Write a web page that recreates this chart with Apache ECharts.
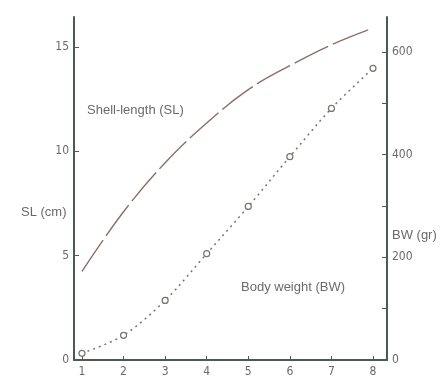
<!DOCTYPE html>
<html><head><meta charset="utf-8">
<script src="https://cdn.jsdelivr.net/npm/echarts@6/dist/echarts.min.js"></script>
<style>html,body{margin:0;padding:0;background:#fff}#c{width:440px;height:378px}</style>
</head><body><div id="c"></div>
<script>
const ages = [1, 2, 3, 4, 5, 6, 7, 8];
const shellLength = [4.25, 7.1, 9.45, 11.35, 12.95, 14.1, 15.1, 15.9];
const bodyWeight = [13, 48, 116, 207, 299, 396, 490, 568];
const slTicks = [0, 5, 10, 15];
const bwTicks = [0, 100, 200, 300, 400, 500, 600];
const bwLabels = [0, 200, 400, 600];

const axisColor = '#4d5a53';
const textColor = '#6a6a6a';
const font = 'Liberation Sans';
const narrow = '"Liberation Sans Narrow", "DejaVu Sans Condensed", "Liberation Sans"';

const chart = echarts.init(document.getElementById('c'), null, {renderer: 'canvas'});
chart.setOption({
  animation: false,
  backgroundColor: '#fff',
  grid: {left: 74, right: 53, top: 17, bottom: 16, containLabel: false},
  xAxis: {
    type: 'value', min: 0.808, max: 8.337,
    splitLine: {show: false},
    axisLine: {show: true, onZero: false, lineStyle: {color: axisColor, width: 2}},
    axisTick: {show: true, inside: true, length: 4, customValues: ages, lineStyle: {color: axisColor, width: 1}},
    axisLabel: {customValues: ages, margin: 6, fontSize: 12, color: textColor, fontFamily: narrow}
  },
  yAxis: [{
    type: 'value', min: 0, max: 16.43, position: 'left',
    splitLine: {show: false},
    axisLine: {show: true, onZero: false, lineStyle: {color: axisColor, width: 2}},
    axisTick: {show: true, inside: true, length: 5, customValues: slTicks, lineStyle: {color: axisColor, width: 1}},
    axisLabel: {customValues: slTicks, margin: 5, fontSize: 12, color: textColor, fontFamily: narrow}
  }, {
    type: 'value', min: 0, max: 668, position: 'right',
    splitLine: {show: false},
    axisLine: {show: true, onZero: false, lineStyle: {color: axisColor, width: 2}},
    axisTick: {show: true, inside: true, length: 5, customValues: bwTicks, lineStyle: {color: axisColor, width: 1}},
    axisLabel: {customValues: bwLabels, margin: 5, fontSize: 12, color: textColor, fontFamily: narrow}
  }],
  series: [{
    name: 'Shell-length (SL)', type: 'line', yAxisIndex: 0,
    data: ages.map((a, i) => [a, shellLength[i]]),
    smooth: 0.4, showSymbol: false, symbol: 'none',
    lineStyle: {color: '#8c6e68', width: 1.4, type: [38, 5]}
  }, {
    name: 'Body weight (BW)', type: 'line', yAxisIndex: 1,
    data: ages.map((a, i) => [a, bodyWeight[i]]),
    smooth: 0.3, symbol: 'circle', symbolSize: 6, showSymbol: true,
    itemStyle: {color: '#fff', borderColor: '#76766e', borderWidth: 1.2},
    lineStyle: {color: '#76766e', width: 1.5, type: [2, 4]}
  }],
  graphic: [
    {type: 'text', left: 21, top: 206, style: {text: 'SL (cm)', fontSize: 13, fill: textColor, fontFamily: font}},
    {type: 'text', left: 392, top: 229, style: {text: 'BW (gr)', fontSize: 13, fill: textColor, fontFamily: font}},
    {type: 'text', left: 87, top: 104, style: {text: 'Shell-length (SL)', fontSize: 13, fill: textColor, fontFamily: font}},
    {type: 'text', left: 241, top: 281, style: {text: 'Body weight (BW)', fontSize: 13, fill: textColor, fontFamily: font}}
  ]
});
</script></body></html>
